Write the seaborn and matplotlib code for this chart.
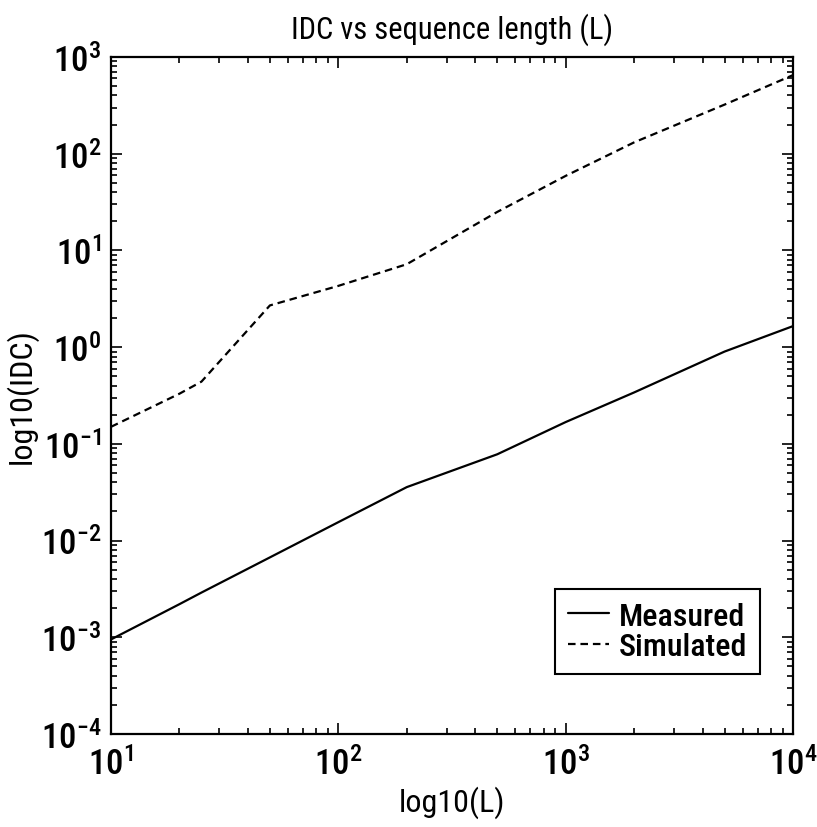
import numpy as np
import pandas as pd
import matplotlib
matplotlib.use("Agg")
import matplotlib.pyplot as plt
from matplotlib import font_manager, ticker
import seaborn as sns

# Data
L_values = [10, 20, 25, 50, 100, 200, 500, 1000, 2000, 5000, 10000]
measured_idc = [0.00095, 0.0022, 0.0029, 0.0067, 0.0155, 0.0357, 0.078, 0.168, 0.34, 0.90, 1.65]
simulated_idc = [0.15, 0.33, 0.44, 2.7, 4.3, 7.2, 25.0, 59.0, 131.0, 322.0, 650.0]
series_names = ["Measured", "Simulated"]

title_text = "IDC vs sequence length (L)"
xlabel_text = "log10(L)"
ylabel_text = "log10(IDC)"

df = pd.DataFrame({
    "L": L_values * 2,
    "IDC": measured_idc + simulated_idc,
    "series": [series_names[0]] * len(L_values) + [series_names[1]] * len(L_values),
})

names = {f.name for f in font_manager.fontManager.ttflist}
narrow = None
for cand in ["Liberation Sans Narrow", "Arial Narrow", "Roboto Condensed", "DejaVu Sans Condensed"]:
    if cand in names:
        narrow = cand
        break
base_font = narrow if narrow else "Liberation Sans"
scale = 1.0 if narrow else 0.88

sns.set_style("ticks")
plt.rcParams["font.family"] = [base_font, "DejaVu Sans"]
plt.rcParams["font.weight"] = "medium"
plt.rcParams["mathtext.fontset"] = "custom"
plt.rcParams["mathtext.rm"] = base_font + ":medium"
plt.rcParams["mathtext.it"] = base_font + ":medium"
plt.rcParams["mathtext.bf"] = base_font + ":bold"
for key in ["text.color", "axes.labelcolor", "xtick.color", "ytick.color", "axes.edgecolor"]:
    plt.rcParams[key] = "black"

fig = plt.figure(figsize=(8.17, 8.28), dpi=100)
ax = fig.add_axes([111 / 817, 1 - 735 / 828, (793 - 111) / 817, (735 - 58) / 828])

sns.lineplot(
    data=df, x="L", y="IDC", style="series",
    dashes={"Measured": "", "Simulated": (3.4, 2.2)},
    color="black", linewidth=1.6, ax=ax, legend=True,
)

ax.set_xscale("log")
ax.set_yscale("log")
ax.set_xlim(10, 1e4)
ax.set_ylim(1e-4, 1e3)

ax.set_title(title_text, fontsize=22 * scale, pad=14, color="black")
ax.set_xlabel(xlabel_text, fontsize=23 * scale, labelpad=3, color="black")
ax.set_ylabel(ylabel_text, fontsize=23 * scale, labelpad=2, color="black")

ax.tick_params(which="both", direction="in", top=True, right=True, colors="black", width=1.2)
ax.tick_params(which="major", length=8, labelsize=25 * scale)
ax.tick_params(axis="x", which="major", pad=9)
ax.tick_params(axis="y", which="major", pad=7)
ax.tick_params(which="minor", length=4)
ax.xaxis.set_minor_locator(ticker.LogLocator(base=10, subs=np.arange(2, 10), numticks=20))
ax.yaxis.set_minor_locator(ticker.LogLocator(base=10, subs=np.arange(2, 10), numticks=20))
ax.xaxis.set_minor_formatter(ticker.NullFormatter())
ax.yaxis.set_minor_formatter(ticker.NullFormatter())

for s in ax.spines.values():
    s.set_linewidth(1.6)
    s.set_color("black")
    s.set_visible(True)

leg = ax.legend(
    title=None, loc="lower right", bbox_to_anchor=(0.9516, 0.0886), borderaxespad=0,
    fontsize=23 * scale, frameon=True, fancybox=False, edgecolor="black",
    handlelength=1.3, handletextpad=0.3, borderpad=0.4, labelspacing=0.05,
)
leg.get_frame().set_linewidth(1.5)
leg.get_frame().set_alpha(1)
for t in leg.get_texts():
    t.set_color("black")

fig.savefig("out.png", dpi=100)
